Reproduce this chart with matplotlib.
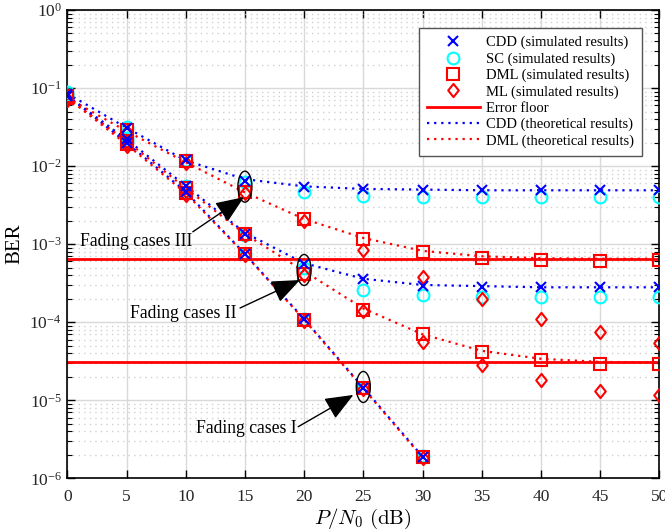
import matplotlib
matplotlib.use("Agg")
import matplotlib.pyplot as plt
from matplotlib.patches import Ellipse
from matplotlib.path import Path
from matplotlib.transforms import ScaledTranslation
from matplotlib.ticker import LogLocator, FixedLocator, NullFormatter
import numpy as np

plt.rcParams['font.family'] = ['Liberation Serif', 'DejaVu Serif']
plt.rcParams['mathtext.fontset'] = 'stix'

# ---------------- data ----------------
snr = [0, 5, 10, 15, 20, 25, 30, 35, 40, 45, 50]
snr_I = [0, 5, 10, 15, 20, 25, 30]

# Fading cases III
cdd_sim_3 = [0.085, 0.031, 0.0118, 0.0065, 0.0054, 0.0051, 0.0050, 0.0049, 0.0049, 0.0049, 0.0049]
sc_sim_3 = [0.088, 0.032, 0.0120, 0.0062, 0.0046, 0.0041, 0.0040, 0.0040, 0.0040, 0.0040, 0.0040]
dml_sim_3 = [0.078, 0.029, 0.0115, 0.0047, 0.0021, 0.00115, 0.00080, 0.00066, 0.00062, 0.00060, 0.00063]
ml_sim_3 = [0.072, 0.027, 0.0110, 0.0045, 0.0020, 0.00085, 0.00038, 0.00020, 0.00011, 7.5e-5, 5.4e-5]
cdd_th_3 = [0.085, 0.031, 0.0118, 0.0068, 0.0055, 0.0051, 0.0050, 0.0049, 0.0049, 0.0049, 0.0049]
dml_th_3 = [0.075, 0.028, 0.0112, 0.0046, 0.0021, 0.0012, 0.00082, 0.00070, 0.00066, 0.00065, 0.00065]

# Fading cases II
cdd_sim_2 = [0.080, 0.022, 0.0056, 0.00135, 0.00056, 0.00036, 0.00029, 0.00028, 0.00028, 0.00028, 0.00028]
sc_sim_2 = [0.082, 0.023, 0.0055, 0.0013, 0.00050, 0.00026, 0.000225, 0.00021, 0.00021, 0.00021, 0.00021]
dml_sim_2 = [0.074, 0.021, 0.0052, 0.00135, 0.00042, 0.000145, 7.0e-5, 4.2e-5, 3.3e-5, 2.9e-5, 2.9e-5]
ml_sim_2 = [0.070, 0.020, 0.0048, 0.0013, 0.00040, 0.00014, 5.5e-5, 2.8e-5, 1.8e-5, 1.3e-5, 1.17e-5]
cdd_th_2 = [0.080, 0.022, 0.0056, 0.0014, 0.00057, 0.00036, 0.00030, 0.00029, 0.00028, 0.00028, 0.00028]
dml_th_2 = [0.074, 0.021, 0.0052, 0.00135, 0.00045, 0.00015, 7.0e-5, 4.3e-5, 3.4e-5, 3.1e-5, 3.05e-5]

# Fading cases I
cdd_sim_1 = [0.080, 0.020, 0.0047, 0.00075, 0.00011, 1.45e-5, 1.9e-6]
sc_sim_1 = [0.082, 0.021, 0.0047, 0.00074, 0.00011, 1.45e-5, 1.95e-6]
dml_sim_1 = [0.075, 0.019, 0.0045, 0.00074, 0.000108, 1.42e-5, 1.85e-6]
ml_sim_1 = [0.070, 0.018, 0.0043, 0.00072, 0.000105, 1.38e-5, 1.8e-6]
cdd_th_1 = [0.080, 0.020, 0.0047, 0.00075, 0.00011, 1.45e-5, 1.9e-6]
dml_th_1 = [0.075, 0.019, 0.0045, 0.00074, 0.000108, 1.42e-5, 1.85e-6]

floor_3 = 6.5e-4
floor_2 = 3.05e-5

x_ticks = [0, 5, 10, 15, 20, 25, 30, 35, 40, 45, 50]

# ---------------- figure ----------------
fig = plt.figure(figsize=(6.65, 5.31), dpi=100)
ax = fig.add_axes([67.3 / 665, 1 - 478.3 / 531, (659.3 - 67.3) / 665, (478.3 - 10) / 531])

blue = '#0000ff'
cyan = '#00ffff'
red = '#ff0000'
diamond = Path([(0, 1), (0.8, 0), (0, -1), (-0.8, 0), (0, 1)],
               [Path.MOVETO, Path.LINETO, Path.LINETO, Path.LINETO, Path.CLOSEPOLY])

dot_kw = dict(linestyle=(0, (1, 2.2)), linewidth=1.6)
# theoretical curves
for xs, th in [(snr, cdd_th_3), (snr, cdd_th_2), (snr_I, cdd_th_1)]:
    ax.plot(xs, th, color=blue, zorder=2, **dot_kw)
for xs, th in [(snr, dml_th_3), (snr, dml_th_2), (snr_I, dml_th_1)]:
    ax.plot(xs, th, color=red, zorder=2, **dot_kw)
# error floors
ax.axhline(floor_3, color=red, lw=2, zorder=2)
ax.axhline(floor_2, color=red, lw=2, zorder=2)

mk = dict(linestyle='none', markerfacecolor='none', markeredgewidth=1.5)
ms_o, ms_s, ms_d, ms_x = 8.5, 8, 9.5, 7.5
for xs, d in [(snr, sc_sim_3), (snr, sc_sim_2), (snr_I, sc_sim_1)]:
    ax.plot(xs, d, marker='o', markersize=ms_o, markeredgecolor=cyan, zorder=3, **mk)
for xs, d in [(snr, dml_sim_3), (snr, dml_sim_2), (snr_I, dml_sim_1)]:
    ax.plot(xs, d, marker='s', markersize=ms_s, markeredgecolor=red, zorder=4, **mk)
for xs, d in [(snr, ml_sim_3), (snr, ml_sim_2), (snr_I, ml_sim_1)]:
    ax.plot(xs, d, marker=diamond, markersize=ms_d, markeredgecolor=red, zorder=4, **mk)
for xs, d in [(snr, cdd_sim_3), (snr, cdd_sim_2), (snr_I, cdd_sim_1)]:
    ax.plot(xs, d, marker='x', markersize=ms_x, markeredgecolor=blue, zorder=5, **mk)

# legend handles
h_cdd, = ax.plot([], [], marker='x', markersize=ms_x, markeredgecolor=blue, **mk)
h_sc, = ax.plot([], [], marker='o', markersize=ms_o, markeredgecolor=cyan, **mk)
h_dml, = ax.plot([], [], marker='s', markersize=ms_s, markeredgecolor=red, **mk)
h_ml, = ax.plot([], [], marker=diamond, markersize=ms_d, markeredgecolor=red, **mk)
h_fl, = ax.plot([], [], color=red, lw=2)
h_cth, = ax.plot([], [], color=blue, **dot_kw)
h_dth, = ax.plot([], [], color=red, **dot_kw)
leg = ax.legend([h_cdd, h_sc, h_dml, h_ml, h_fl, h_cth, h_dth],
                ['CDD (simulated results)', 'SC (simulated results)', 'DML (simulated results)',
                 'ML (simulated results)', 'Error floor', 'CDD (theoretical results)',
                 'DML (theoretical results)'],
                loc='upper right', bbox_to_anchor=(0.971, 0.9616), borderaxespad=0,
                fontsize=10.5, handlelength=3.6, labelspacing=0.2, borderpad=0.55,
                handletextpad=0.45, fancybox=False, framealpha=1, edgecolor='#555555')
leg.get_frame().set_linewidth(1.0)
leg.set_zorder(10)

ax.set_yscale('log')
ax.set_xlim(0, 50)
ax.set_ylim(1e-6, 1)
ax.xaxis.set_major_locator(FixedLocator(x_ticks))
ax.set_xticklabels([str(t) for t in x_ticks])
ax.yaxis.set_major_locator(LogLocator(base=10, numticks=10))
ax.yaxis.set_minor_locator(LogLocator(base=10, subs=np.arange(2, 10), numticks=100))
ax.yaxis.set_minor_formatter(NullFormatter())

ax.grid(True, which='major', color='#d9d9d9', lw=1.0, zorder=0)
ax.grid(True, which='minor', axis='y', color='#d0d0d0', lw=1.0, linestyle=(0, (1, 3)), zorder=0)
ax.set_axisbelow(True)

ax.tick_params(which='both', direction='in', top=True, right=True, labelsize=12.5,
               labelcolor='#262626')
ax.tick_params(axis='x', pad=8)
ax.tick_params(axis='y', pad=4)
ax.tick_params(which='major', length=6, width=1.0)
ax.tick_params(which='minor', length=3.5, width=0.8)
for s in ax.spines.values():
    s.set_linewidth(1.2)

ax.set_ylabel('BER', fontsize=15, labelpad=4)
ax.set_xlabel(r'$P/N_0\ \mathrm{(dB)}$', fontsize=15, labelpad=1, math_fontfamily='cm')

# ellipses around the marked points
for xc, yc in [(15, 5.45e-3), (20, 4.67e-4), (25, 1.48e-5)]:
    tr = fig.dpi_scale_trans + ScaledTranslation(xc, yc, ax.transData)
    ax.add_patch(Ellipse((0, 0), 0.14, 0.31, transform=tr, fill=False, ec='k', lw=1.0, zorder=6))

# annotations
ann = [('Fading cases III', (10.53, 1.07e-3), (10.6, 1.44e-3), (14.92, 4.0e-3)),
       ('Fading cases II', (14.33, 1.31e-4), (14.59, 1.52e-4), (19.65, 3.47e-4)),
       ('Fading cases I', (19.37, 4.4e-6), (19.5, 4.58e-6), (24.16, 1.17e-5))]
for txt, tpos, tail, tip in ann:
    ax.text(tpos[0], tpos[1], txt, ha='right', va='center', fontsize=12.7, zorder=7)
    ax.annotate('', xy=tip, xytext=tail,
                arrowprops=dict(arrowstyle='-|>,head_length=1.1,head_width=0.45', color='k',
                                lw=1.0, shrinkA=0, shrinkB=0, mutation_scale=16),
                zorder=7)

fig.savefig('out.png', dpi=100)
